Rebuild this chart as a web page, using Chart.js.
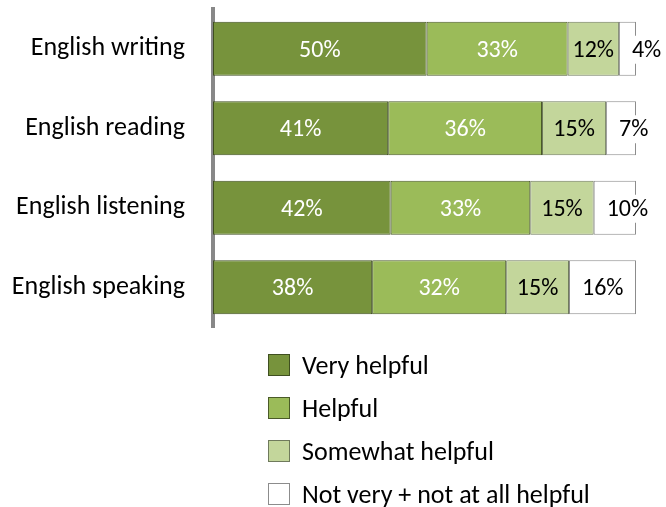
<!DOCTYPE html>
<html>
<head>
<meta charset="utf-8">
<script src="https://cdn.jsdelivr.net/npm/chart.js@4/dist/chart.umd.min.js"></script>
<style>
  html, body { margin: 0; padding: 0; background: #fff; }
  #wrap { position: relative; width: 666px; height: 507px; overflow: hidden; }
  canvas { position: absolute; left: 0; top: 0; }
  #legend { position: absolute; left: 268px; top: 354px; margin: 0; padding: 0; list-style: none;
    font-family: Carlito, Calibri, Lato, sans-serif; font-size: 26px; color: #000; }
  #legend li { position: relative; height: 43px; }
  #legend .box { position: absolute; left: 0; top: 0; width: 20px; height: 20px; border: 1px solid #888; }
  #legend .txt { position: absolute; left: 34px; top: -4px; white-space: nowrap; line-height: 30px; }
</style>
</head>
<body>
<div id="wrap">
  <canvas id="c" width="666" height="507"></canvas>
  <ul id="legend"></ul>
</div>
<script>
const categories = ["English writing", "English reading", "English listening", "English speaking"];
const seriesNames = ["Very helpful", "Helpful", "Somewhat helpful", "Not very + not at all helpful"];
const veryHelpful = [50, 41, 42, 38];
const helpful = [33, 36, 33, 32];
const somewhatHelpful = [12, 15, 15, 15];
const notHelpful = [4, 7, 10, 16];

const seriesValues = [veryHelpful, helpful, somewhatHelpful, notHelpful];
const fills = ["#77933c", "#9bbb59", "#c3d69b", "#ffffff"];
const borders = ["#3f4f20", "#4a5a28", "#6f7a5c", "#8c8c8c"];
const labelColors = ["#ffffff", "#ffffff", "#000000", "#000000"];
const FONT = "Carlito, Calibri, Lato, sans-serif";

const rowSums = categories.map((_, i) => seriesValues.reduce((s, arr) => s + arr[i], 0));

const datasets = seriesValues.map((vals, k) => ({
  label: seriesNames[k],
  data: vals.map((v, i) => v / rowSums[i] * 100),
  raw: vals,
  backgroundColor: fills[k],
  borderColor: borders[k],
  borderWidth: 1,
  borderSkipped: false,
  barPercentage: 0.68,
  categoryPercentage: 1.0
}));

const labelPlugin = {
  id: 'barLabels',
  afterDatasetsDraw(chart) {
    const ctx = chart.ctx;
    ctx.save();
    ctx.font = "24px " + FONT;
    ctx.textAlign = 'center';
    ctx.textBaseline = 'middle';
    chart.data.datasets.forEach((ds, k) => {
      const meta = chart.getDatasetMeta(k);
      meta.data.forEach((bar, i) => {
        const txt = ds.raw[i] + '%';
        const w = ctx.measureText(txt).width;
        const left = Math.min(bar.x, bar.base), right = Math.max(bar.x, bar.base);
        const segW = right - left;
        let cx = (left + right) / 2;
        const cy = bar.y + 2;
        if (k === seriesValues.length - 1) {
          const shift = Math.max(0, (w + 26 - segW) / 2);
          cx += shift;
          ctx.fillStyle = '#ffffff';
          ctx.fillRect(cx - w / 2 - 3, cy - 15, w + 6, 28);
        }
        ctx.fillStyle = labelColors[k];
        ctx.fillText(txt, cx, cy);
      });
    });
    ctx.restore();
  }
};

new Chart(document.getElementById('c'), {
  type: 'bar',
  data: { labels: categories, datasets },
  options: {
    indexAxis: 'y',
    responsive: false,
    animation: false,
    layout: { padding: { top: 9, right: 30, bottom: 180, left: 0 } },
    plugins: { legend: { display: false }, tooltip: { enabled: false } },
    scales: {
      x: { stacked: true, min: 0, max: 100, display: false },
      y: {
        stacked: true,
        grid: { display: false, drawTicks: true, tickLength: 28 },
        border: { display: true, color: '#888888', width: 4 },
        ticks: { color: '#000', padding: 0, font: { family: FONT, size: 26, lineHeight: 0.6 } },
        afterFit(scale) { scale.width = 213; }
      }
    }
  },
  plugins: [labelPlugin]
});

const legend = document.getElementById('legend');
seriesNames.forEach((name, k) => {
  const li = document.createElement('li');
  const box = document.createElement('span');
  box.className = 'box';
  box.style.background = fills[k];
  box.style.borderColor = borders[k];
  const t = document.createElement('span');
  t.className = 'txt';
  t.textContent = name;
  li.appendChild(box); li.appendChild(t);
  legend.appendChild(li);
});
</script>
</body>
</html>
